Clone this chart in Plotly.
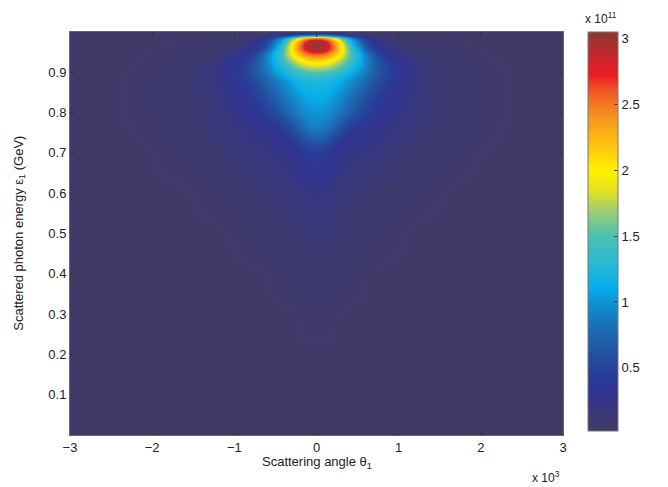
import numpy as np
import plotly.graph_objects as go

# ---- data ----
# scattering angle axis (plotted in units shown on the axis, x 10^3 label)
angle = np.round(np.arange(-3.0, 3.0001, 0.05), 3)

# energy rows (GeV)
energy = [0.0, 0.1, 0.2, 0.3, 0.4, 0.5, 0.6, 0.7, 0.73, 0.76, 0.8, 0.85, 0.88,
          0.9, 0.92, 0.935, 0.948, 0.958, 0.968, 0.978, 0.985, 0.99, 0.995, 1.0]
# on-axis amplitude of the bright core (x 10^11)
core_amp = [0.0, 0.0, 0.0, 0.0, 0.0, 0.02, 0.05, 0.18, 0.36, 0.55, 0.65, 0.80, 0.92,
            1.20, 1.62, 2.00, 2.40, 2.75, 2.85, 2.75, 2.35, 1.30, 0.50, 0.10]
# angular width of the bright core
core_width = [0.10, 0.10, 0.10, 0.10, 0.10, 0.12, 0.15, 0.17, 0.19, 0.24, 0.37, 0.46, 0.51,
              0.50, 0.45, 0.41, 0.37, 0.33, 0.31, 0.30, 0.29, 0.28, 0.27, 0.27]
# amplitude of the faint halo (x 10^11)
halo_amp = [0.0, 0.0, 0.01, 0.05, 0.10, 0.14, 0.18, 0.26, 0.30, 0.33, 0.35, 0.35, 0.34,
            0.33, 0.31, 0.29, 0.26, 0.24, 0.22, 0.19, 0.16, 0.12, 0.07, 0.03]
# angular width of the faint halo
halo_width = [0.10, 0.10, 0.10, 0.25, 0.40, 0.60, 0.80, 0.95, 1.00, 1.02, 1.05, 1.05, 1.05,
              1.05, 1.03, 1.00, 0.98, 0.95, 0.92, 0.90, 0.85, 0.80, 0.75, 0.70]

x_ticks = [-3, -2, -1, 0, 1, 2, 3]
y_ticks = [0.1, 0.2, 0.3, 0.4, 0.5, 0.6, 0.7, 0.8, 0.9]
cbar_ticks = [0.5, 1, 1.5, 2, 2.5, 3]

# ---- build the intensity table ----
ang = np.asarray(angle)
z = []
for a1, s1, a2, s2 in zip(core_amp, core_width, halo_amp, halo_width):
    row = a1 * np.exp(-ang**2 / (2 * s1**2)) + a2 * np.exp(-ang**2 / (2 * s2**2))
    z.append(np.maximum(row, 0.02))
z = np.array(z)

zmin, zmax = 0.02, 3.05
cs_vals = [0.02, 0.12, 0.3, 0.45, 0.6, 0.8, 1.0, 1.1, 1.3, 1.5, 1.7, 1.85, 2.0,
           2.2, 2.4, 2.6, 2.72, 2.88, 3.05]
cs_cols = ['#413a69', '#3d3a72', '#30338f', '#283d99', '#22509f', '#1b6eb6', '#0f93d4',
           '#05aeec', '#29b9d2', '#4cc0b2', '#a3ce6c', '#e4e21f', '#fff200', '#fdc010',
           '#f7941d', '#f15a24', '#ec1c24', '#c0272d', '#8c3b2f']
colorscale = [[(v - zmin) / (zmax - zmin), c] for v, c in zip(cs_vals, cs_cols)]

FONT = "Liberation Sans, Arial, Helvetica, sans-serif"

fig = go.Figure(go.Heatmap(
    x=angle, y=energy, z=z, zmin=zmin, zmax=zmax, zsmooth="best",
    colorscale=colorscale, hoverinfo="skip",
    colorbar=dict(
        x=1.047, xanchor="left", xref="paper", xpad=2, ypad=0,
        y=1.0, yanchor="top", len=0.99, lenmode="fraction",
        thickness=30, thicknessmode="pixels",
        outlinewidth=1, outlinecolor="#777",
        tickvals=cbar_ticks, ticktext=[f"{v:g}" for v in cbar_ticks],
        ticks="inside", ticklen=4, tickcolor="#444",
        tickfont=dict(family=FONT, size=13, color="#222"),
    ),
))

# the page body has an 8px default margin: the figure is drawn from (8, 8)
fig.update_layout(
    width=660, height=479,
    margin=dict(l=62, r=105, t=24, b=52),
    paper_bgcolor="white", plot_bgcolor="#413a69",
    font=dict(family=FONT, size=13, color="#222"),
    xaxis=dict(range=[-3, 3], tickvals=x_ticks, ticks="inside", ticklen=5,
               tickcolor="#333", showline=True, linecolor="#666", mirror="ticks",
               showgrid=False, zeroline=False, tickfont=dict(size=13)),
    yaxis=dict(range=[0, 1.0], tickvals=y_ticks, ticks="inside", ticklen=5,
               tickcolor="#333", showline=True, linecolor="#666", mirror="ticks",
               showgrid=False, zeroline=False, tickfont=dict(size=13)),
    annotations=[
        dict(text="Scattering angle θ<sub>1</sub>", x=0.5, y=-0.068, xref="paper",
             yref="paper", showarrow=False, xanchor="center", yanchor="middle",
             font=dict(size=13)),
        dict(text="x 10<sup>3</sup>", x=0.965, y=-0.103, xref="paper", yref="paper",
             showarrow=False, xanchor="center", yanchor="middle", font=dict(size=12)),
        dict(text="Scattered photon energy ε<sub>1</sub> (GeV)", x=-0.103, y=0.5,
             xref="paper", yref="paper", showarrow=False, textangle=-90,
             xanchor="center", yanchor="middle", font=dict(size=13)),
        dict(text="x 10<sup>11</sup>", x=1.04, y=1.035, xref="paper", yref="paper",
             showarrow=False, xanchor="left", yanchor="middle", font=dict(size=12)),
    ],
)

fig.write_html("out.html")
